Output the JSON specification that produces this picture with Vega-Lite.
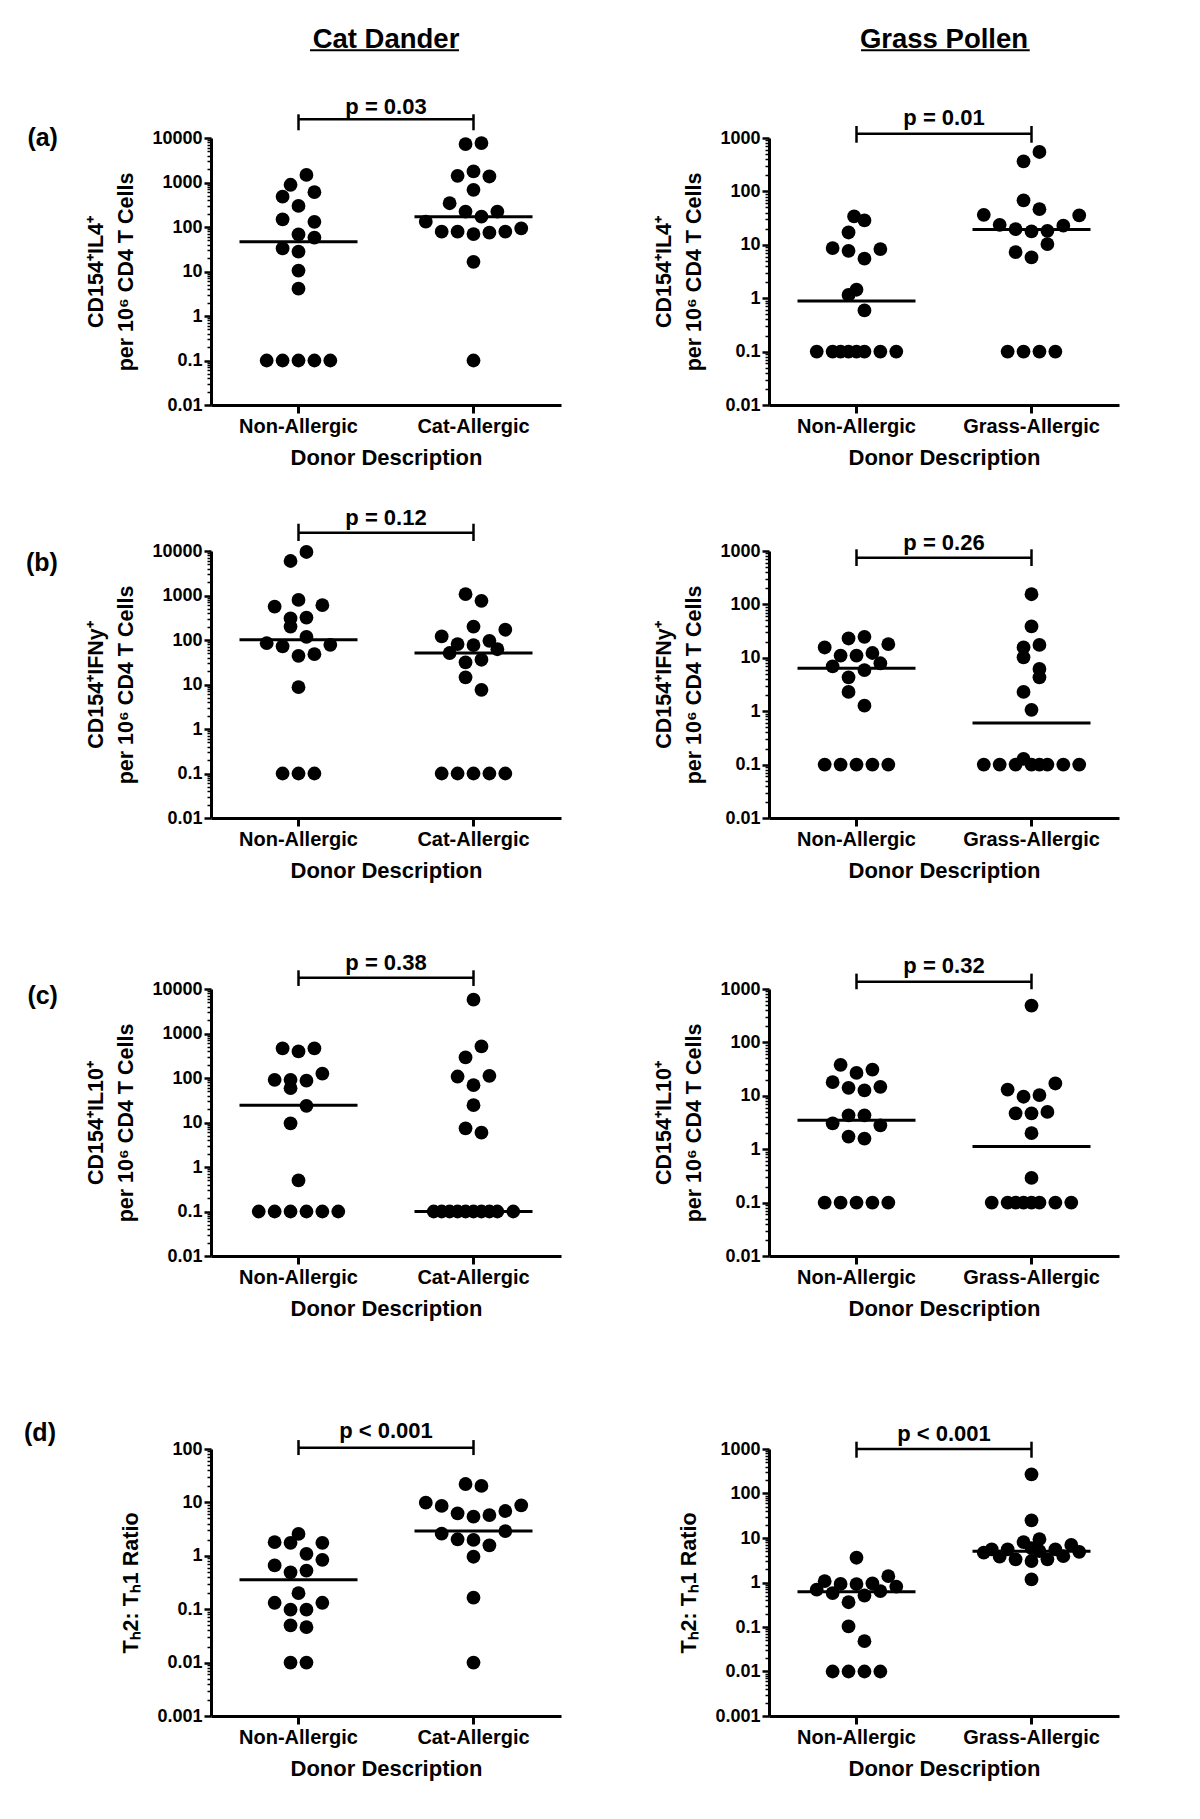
{
"$schema": "https://vega.github.io/schema/vega-lite/v6.json",
"background": "white",
"padding": {"left": 24, "top": 26, "right": 5, "bottom": 5},
"datasets": {
"pts": [
{"p":"a1","g":"Non-Allergic","v":1480,"s":1},{"p":"a1","g":"Non-Allergic","v":890,"s":-1},{"p":"a1","g":"Non-Allergic","v":480,"s":-2},{"p":"a1","g":"Non-Allergic","v":605,"s":2},{"p":"a1","g":"Non-Allergic","v":298,"s":0},{"p":"a1","g":"Non-Allergic","v":149,"s":-2},{"p":"a1","g":"Non-Allergic","v":131,"s":2},{"p":"a1","g":"Non-Allergic","v":68,"s":0},{"p":"a1","g":"Non-Allergic","v":58,"s":2},{"p":"a1","g":"Non-Allergic","v":33,"s":-2},{"p":"a1","g":"Non-Allergic","v":28,"s":0},{"p":"a1","g":"Non-Allergic","v":10.5,"s":0},{"p":"a1","g":"Non-Allergic","v":4.1,"s":0},{"p":"a1","g":"Non-Allergic","v":0.1,"s":-4},{"p":"a1","g":"Non-Allergic","v":0.1,"s":-2},{"p":"a1","g":"Non-Allergic","v":0.1,"s":0},{"p":"a1","g":"Non-Allergic","v":0.1,"s":2},{"p":"a1","g":"Non-Allergic","v":0.1,"s":4},
{"p":"a1","g":"Cat-Allergic","v":7300,"s":-1},{"p":"a1","g":"Cat-Allergic","v":7700,"s":1},{"p":"a1","g":"Cat-Allergic","v":1410,"s":-2},{"p":"a1","g":"Cat-Allergic","v":1770,"s":0},{"p":"a1","g":"Cat-Allergic","v":1365,"s":2},{"p":"a1","g":"Cat-Allergic","v":684,"s":0},{"p":"a1","g":"Cat-Allergic","v":342,"s":-3},{"p":"a1","g":"Cat-Allergic","v":222,"s":-1},{"p":"a1","g":"Cat-Allergic","v":222,"s":3},{"p":"a1","g":"Cat-Allergic","v":171,"s":1},{"p":"a1","g":"Cat-Allergic","v":132,"s":-6},{"p":"a1","g":"Cat-Allergic","v":78.5,"s":-4},{"p":"a1","g":"Cat-Allergic","v":78.5,"s":-2},{"p":"a1","g":"Cat-Allergic","v":69.5,"s":0},{"p":"a1","g":"Cat-Allergic","v":74.5,"s":2},{"p":"a1","g":"Cat-Allergic","v":78.5,"s":4},{"p":"a1","g":"Cat-Allergic","v":93,"s":6},{"p":"a1","g":"Cat-Allergic","v":16.5,"s":0},{"p":"a1","g":"Cat-Allergic","v":0.1,"s":0},
{"p":"a2","g":"Non-Allergic","v":34,"s":-0.3},{"p":"a2","g":"Non-Allergic","v":28.6,"s":1},{"p":"a2","g":"Non-Allergic","v":17,"s":-1},{"p":"a2","g":"Non-Allergic","v":8.7,"s":-3},{"p":"a2","g":"Non-Allergic","v":7.7,"s":-1},{"p":"a2","g":"Non-Allergic","v":8.3,"s":3},{"p":"a2","g":"Non-Allergic","v":5.5,"s":1},{"p":"a2","g":"Non-Allergic","v":1.44,"s":0},{"p":"a2","g":"Non-Allergic","v":1.15,"s":-1},{"p":"a2","g":"Non-Allergic","v":0.59,"s":1},{"p":"a2","g":"Non-Allergic","v":0.1,"s":-5},{"p":"a2","g":"Non-Allergic","v":0.1,"s":-3},{"p":"a2","g":"Non-Allergic","v":0.1,"s":-2},{"p":"a2","g":"Non-Allergic","v":0.1,"s":-1},{"p":"a2","g":"Non-Allergic","v":0.1,"s":0},{"p":"a2","g":"Non-Allergic","v":0.1,"s":1},{"p":"a2","g":"Non-Allergic","v":0.1,"s":3},{"p":"a2","g":"Non-Allergic","v":0.1,"s":5},
{"p":"a2","g":"Grass-Allergic","v":547,"s":1},{"p":"a2","g":"Grass-Allergic","v":365,"s":-1},{"p":"a2","g":"Grass-Allergic","v":68,"s":-1},{"p":"a2","g":"Grass-Allergic","v":46.5,"s":1},{"p":"a2","g":"Grass-Allergic","v":36.5,"s":-6},{"p":"a2","g":"Grass-Allergic","v":35.5,"s":6},{"p":"a2","g":"Grass-Allergic","v":23.7,"s":-4},{"p":"a2","g":"Grass-Allergic","v":22.8,"s":4},{"p":"a2","g":"Grass-Allergic","v":19.6,"s":-2},{"p":"a2","g":"Grass-Allergic","v":17.8,"s":0},{"p":"a2","g":"Grass-Allergic","v":18.3,"s":2},{"p":"a2","g":"Grass-Allergic","v":10.3,"s":2},{"p":"a2","g":"Grass-Allergic","v":7.3,"s":-2},{"p":"a2","g":"Grass-Allergic","v":5.8,"s":0},{"p":"a2","g":"Grass-Allergic","v":0.1,"s":-3},{"p":"a2","g":"Grass-Allergic","v":0.1,"s":-1},{"p":"a2","g":"Grass-Allergic","v":0.1,"s":1},{"p":"a2","g":"Grass-Allergic","v":0.1,"s":3},
{"p":"b1","g":"Non-Allergic","v":9500,"s":1},{"p":"b1","g":"Non-Allergic","v":5960,"s":-1},{"p":"b1","g":"Non-Allergic","v":795,"s":0},{"p":"b1","g":"Non-Allergic","v":565,"s":-3},{"p":"b1","g":"Non-Allergic","v":605,"s":3},{"p":"b1","g":"Non-Allergic","v":305,"s":-1},{"p":"b1","g":"Non-Allergic","v":320,"s":1},{"p":"b1","g":"Non-Allergic","v":200,"s":-1},{"p":"b1","g":"Non-Allergic","v":118,"s":1},{"p":"b1","g":"Non-Allergic","v":85,"s":-4},{"p":"b1","g":"Non-Allergic","v":72,"s":-2},{"p":"b1","g":"Non-Allergic","v":78,"s":4},{"p":"b1","g":"Non-Allergic","v":44,"s":0},{"p":"b1","g":"Non-Allergic","v":48,"s":2},{"p":"b1","g":"Non-Allergic","v":8.7,"s":0},{"p":"b1","g":"Non-Allergic","v":0.1,"s":-2},{"p":"b1","g":"Non-Allergic","v":0.1,"s":0},{"p":"b1","g":"Non-Allergic","v":0.1,"s":2},
{"p":"b1","g":"Cat-Allergic","v":1070,"s":-1},{"p":"b1","g":"Cat-Allergic","v":760,"s":1},{"p":"b1","g":"Cat-Allergic","v":200,"s":0},{"p":"b1","g":"Cat-Allergic","v":170,"s":4},{"p":"b1","g":"Cat-Allergic","v":120,"s":-4},{"p":"b1","g":"Cat-Allergic","v":96,"s":2},{"p":"b1","g":"Cat-Allergic","v":81,"s":-2},{"p":"b1","g":"Cat-Allergic","v":77,"s":0},{"p":"b1","g":"Cat-Allergic","v":62,"s":3},{"p":"b1","g":"Cat-Allergic","v":51,"s":-3},{"p":"b1","g":"Cat-Allergic","v":36,"s":1},{"p":"b1","g":"Cat-Allergic","v":31.5,"s":-1},{"p":"b1","g":"Cat-Allergic","v":14.5,"s":-1},{"p":"b1","g":"Cat-Allergic","v":7.6,"s":1},{"p":"b1","g":"Cat-Allergic","v":0.1,"s":-4},{"p":"b1","g":"Cat-Allergic","v":0.1,"s":-2},{"p":"b1","g":"Cat-Allergic","v":0.1,"s":0},{"p":"b1","g":"Cat-Allergic","v":0.1,"s":2},{"p":"b1","g":"Cat-Allergic","v":0.1,"s":4},
{"p":"b2","g":"Non-Allergic","v":23,"s":-1},{"p":"b2","g":"Non-Allergic","v":24.7,"s":1},{"p":"b2","g":"Non-Allergic","v":15.6,"s":-4},{"p":"b2","g":"Non-Allergic","v":18,"s":4},{"p":"b2","g":"Non-Allergic","v":11,"s":-2},{"p":"b2","g":"Non-Allergic","v":11,"s":0},{"p":"b2","g":"Non-Allergic","v":12.3,"s":2},{"p":"b2","g":"Non-Allergic","v":6.9,"s":-3},{"p":"b2","g":"Non-Allergic","v":7.9,"s":3},{"p":"b2","g":"Non-Allergic","v":5.9,"s":1},{"p":"b2","g":"Non-Allergic","v":4.3,"s":-1},{"p":"b2","g":"Non-Allergic","v":2.3,"s":-1},{"p":"b2","g":"Non-Allergic","v":1.27,"s":1},{"p":"b2","g":"Non-Allergic","v":0.1,"s":-4},{"p":"b2","g":"Non-Allergic","v":0.1,"s":-2},{"p":"b2","g":"Non-Allergic","v":0.1,"s":0},{"p":"b2","g":"Non-Allergic","v":0.1,"s":2},{"p":"b2","g":"Non-Allergic","v":0.1,"s":4},
{"p":"b2","g":"Grass-Allergic","v":155,"s":0},{"p":"b2","g":"Grass-Allergic","v":38.6,"s":0},{"p":"b2","g":"Grass-Allergic","v":15.6,"s":-1},{"p":"b2","g":"Grass-Allergic","v":17.4,"s":1},{"p":"b2","g":"Grass-Allergic","v":10.2,"s":-1},{"p":"b2","g":"Grass-Allergic","v":6.2,"s":1},{"p":"b2","g":"Grass-Allergic","v":4.3,"s":1},{"p":"b2","g":"Grass-Allergic","v":2.3,"s":-1},{"p":"b2","g":"Grass-Allergic","v":1.06,"s":0},{"p":"b2","g":"Grass-Allergic","v":0.128,"s":-1},{"p":"b2","g":"Grass-Allergic","v":0.1,"s":-6},{"p":"b2","g":"Grass-Allergic","v":0.1,"s":-4},{"p":"b2","g":"Grass-Allergic","v":0.1,"s":-2},{"p":"b2","g":"Grass-Allergic","v":0.1,"s":0},{"p":"b2","g":"Grass-Allergic","v":0.1,"s":1},{"p":"b2","g":"Grass-Allergic","v":0.1,"s":2},{"p":"b2","g":"Grass-Allergic","v":0.1,"s":4},{"p":"b2","g":"Grass-Allergic","v":0.1,"s":6},
{"p":"c1","g":"Non-Allergic","v":462,"s":-2},{"p":"c1","g":"Non-Allergic","v":396,"s":0},{"p":"c1","g":"Non-Allergic","v":462,"s":2},{"p":"c1","g":"Non-Allergic","v":126,"s":3},{"p":"c1","g":"Non-Allergic","v":91,"s":-3},{"p":"c1","g":"Non-Allergic","v":91,"s":-1},{"p":"c1","g":"Non-Allergic","v":87,"s":1},{"p":"c1","g":"Non-Allergic","v":59,"s":-1},{"p":"c1","g":"Non-Allergic","v":23.7,"s":1},{"p":"c1","g":"Non-Allergic","v":9.6,"s":-1},{"p":"c1","g":"Non-Allergic","v":0.5,"s":0},{"p":"c1","g":"Non-Allergic","v":0.1,"s":-5},{"p":"c1","g":"Non-Allergic","v":0.1,"s":-3},{"p":"c1","g":"Non-Allergic","v":0.1,"s":-1},{"p":"c1","g":"Non-Allergic","v":0.1,"s":1},{"p":"c1","g":"Non-Allergic","v":0.1,"s":3},{"p":"c1","g":"Non-Allergic","v":0.1,"s":5},
{"p":"c1","g":"Cat-Allergic","v":5750,"s":0},{"p":"c1","g":"Cat-Allergic","v":512,"s":1},{"p":"c1","g":"Cat-Allergic","v":290,"s":-1},{"p":"c1","g":"Cat-Allergic","v":108,"s":-2},{"p":"c1","g":"Cat-Allergic","v":112,"s":2},{"p":"c1","g":"Cat-Allergic","v":69,"s":0},{"p":"c1","g":"Cat-Allergic","v":24.5,"s":0},{"p":"c1","g":"Cat-Allergic","v":7.4,"s":-1},{"p":"c1","g":"Cat-Allergic","v":5.9,"s":1},{"p":"c1","g":"Cat-Allergic","v":0.1,"s":-5},{"p":"c1","g":"Cat-Allergic","v":0.1,"s":-4},{"p":"c1","g":"Cat-Allergic","v":0.1,"s":-3},{"p":"c1","g":"Cat-Allergic","v":0.1,"s":-2},{"p":"c1","g":"Cat-Allergic","v":0.1,"s":-1},{"p":"c1","g":"Cat-Allergic","v":0.1,"s":0},{"p":"c1","g":"Cat-Allergic","v":0.1,"s":1},{"p":"c1","g":"Cat-Allergic","v":0.1,"s":2},{"p":"c1","g":"Cat-Allergic","v":0.1,"s":3},{"p":"c1","g":"Cat-Allergic","v":0.1,"s":5},
{"p":"c2","g":"Non-Allergic","v":38,"s":-2},{"p":"c2","g":"Non-Allergic","v":26.8,"s":0},{"p":"c2","g":"Non-Allergic","v":31,"s":2},{"p":"c2","g":"Non-Allergic","v":18,"s":-3},{"p":"c2","g":"Non-Allergic","v":14.1,"s":-1},{"p":"c2","g":"Non-Allergic","v":14.7,"s":3},{"p":"c2","g":"Non-Allergic","v":12.6,"s":1},{"p":"c2","g":"Non-Allergic","v":4.3,"s":-1},{"p":"c2","g":"Non-Allergic","v":4.3,"s":1},{"p":"c2","g":"Non-Allergic","v":3.05,"s":-3},{"p":"c2","g":"Non-Allergic","v":2.8,"s":3},{"p":"c2","g":"Non-Allergic","v":1.72,"s":-1},{"p":"c2","g":"Non-Allergic","v":1.58,"s":1},{"p":"c2","g":"Non-Allergic","v":0.1,"s":-4},{"p":"c2","g":"Non-Allergic","v":0.1,"s":-2},{"p":"c2","g":"Non-Allergic","v":0.1,"s":0},{"p":"c2","g":"Non-Allergic","v":0.1,"s":2},{"p":"c2","g":"Non-Allergic","v":0.1,"s":4},
{"p":"c2","g":"Grass-Allergic","v":490,"s":0},{"p":"c2","g":"Grass-Allergic","v":17,"s":3},{"p":"c2","g":"Grass-Allergic","v":13.1,"s":-3},{"p":"c2","g":"Grass-Allergic","v":9.6,"s":-1},{"p":"c2","g":"Grass-Allergic","v":10.3,"s":1},{"p":"c2","g":"Grass-Allergic","v":4.7,"s":-2},{"p":"c2","g":"Grass-Allergic","v":4.7,"s":0},{"p":"c2","g":"Grass-Allergic","v":5.0,"s":2},{"p":"c2","g":"Grass-Allergic","v":2.0,"s":0},{"p":"c2","g":"Grass-Allergic","v":0.29,"s":0},{"p":"c2","g":"Grass-Allergic","v":0.1,"s":-5},{"p":"c2","g":"Grass-Allergic","v":0.1,"s":-3},{"p":"c2","g":"Grass-Allergic","v":0.1,"s":-2},{"p":"c2","g":"Grass-Allergic","v":0.1,"s":-1},{"p":"c2","g":"Grass-Allergic","v":0.1,"s":0},{"p":"c2","g":"Grass-Allergic","v":0.1,"s":1},{"p":"c2","g":"Grass-Allergic","v":0.1,"s":3},{"p":"c2","g":"Grass-Allergic","v":0.1,"s":5},
{"p":"d1","g":"Non-Allergic","v":2.57,"s":0},{"p":"d1","g":"Non-Allergic","v":1.8,"s":-3},{"p":"d1","g":"Non-Allergic","v":1.75,"s":-1},{"p":"d1","g":"Non-Allergic","v":1.75,"s":3},{"p":"d1","g":"Non-Allergic","v":1.09,"s":1},{"p":"d1","g":"Non-Allergic","v":0.84,"s":3},{"p":"d1","g":"Non-Allergic","v":0.66,"s":-3},{"p":"d1","g":"Non-Allergic","v":0.49,"s":-1},{"p":"d1","g":"Non-Allergic","v":0.53,"s":1},{"p":"d1","g":"Non-Allergic","v":0.2,"s":0},{"p":"d1","g":"Non-Allergic","v":0.132,"s":-3},{"p":"d1","g":"Non-Allergic","v":0.132,"s":3},{"p":"d1","g":"Non-Allergic","v":0.098,"s":-1},{"p":"d1","g":"Non-Allergic","v":0.098,"s":1},{"p":"d1","g":"Non-Allergic","v":0.05,"s":-1},{"p":"d1","g":"Non-Allergic","v":0.046,"s":1},{"p":"d1","g":"Non-Allergic","v":0.01,"s":-1},{"p":"d1","g":"Non-Allergic","v":0.01,"s":1},
{"p":"d1","g":"Cat-Allergic","v":22.1,"s":-1},{"p":"d1","g":"Cat-Allergic","v":20.3,"s":1},{"p":"d1","g":"Cat-Allergic","v":9.9,"s":-6},{"p":"d1","g":"Cat-Allergic","v":8.6,"s":-4},{"p":"d1","g":"Cat-Allergic","v":6.25,"s":-2},{"p":"d1","g":"Cat-Allergic","v":5.4,"s":0},{"p":"d1","g":"Cat-Allergic","v":5.8,"s":2},{"p":"d1","g":"Cat-Allergic","v":6.9,"s":4},{"p":"d1","g":"Cat-Allergic","v":8.8,"s":6},{"p":"d1","g":"Cat-Allergic","v":2.6,"s":-4},{"p":"d1","g":"Cat-Allergic","v":2.04,"s":-2},{"p":"d1","g":"Cat-Allergic","v":1.98,"s":0},{"p":"d1","g":"Cat-Allergic","v":2.9,"s":4},{"p":"d1","g":"Cat-Allergic","v":1.57,"s":2},{"p":"d1","g":"Cat-Allergic","v":0.96,"s":0},{"p":"d1","g":"Cat-Allergic","v":0.164,"s":0},{"p":"d1","g":"Cat-Allergic","v":0.01,"s":0},
{"p":"d2","g":"Non-Allergic","v":3.6,"s":0},{"p":"d2","g":"Non-Allergic","v":1.07,"s":-4},{"p":"d2","g":"Non-Allergic","v":1.39,"s":4},{"p":"d2","g":"Non-Allergic","v":0.93,"s":-2},{"p":"d2","g":"Non-Allergic","v":0.92,"s":0},{"p":"d2","g":"Non-Allergic","v":0.95,"s":2},{"p":"d2","g":"Non-Allergic","v":0.69,"s":-5},{"p":"d2","g":"Non-Allergic","v":0.81,"s":5},{"p":"d2","g":"Non-Allergic","v":0.58,"s":-3},{"p":"d2","g":"Non-Allergic","v":0.64,"s":3},{"p":"d2","g":"Non-Allergic","v":0.51,"s":1},{"p":"d2","g":"Non-Allergic","v":0.36,"s":-1},{"p":"d2","g":"Non-Allergic","v":0.103,"s":-1},{"p":"d2","g":"Non-Allergic","v":0.048,"s":1},{"p":"d2","g":"Non-Allergic","v":0.01,"s":-3},{"p":"d2","g":"Non-Allergic","v":0.01,"s":-1},{"p":"d2","g":"Non-Allergic","v":0.01,"s":1},{"p":"d2","g":"Non-Allergic","v":0.01,"s":3},
{"p":"d2","g":"Grass-Allergic","v":270,"s":0},{"p":"d2","g":"Grass-Allergic","v":25,"s":0},{"p":"d2","g":"Grass-Allergic","v":4.68,"s":-6},{"p":"d2","g":"Grass-Allergic","v":5.57,"s":-5},{"p":"d2","g":"Grass-Allergic","v":3.8,"s":-4},{"p":"d2","g":"Grass-Allergic","v":5.57,"s":-3},{"p":"d2","g":"Grass-Allergic","v":3.32,"s":-2},{"p":"d2","g":"Grass-Allergic","v":8.1,"s":-1},{"p":"d2","g":"Grass-Allergic","v":5.9,"s":0},{"p":"d2","g":"Grass-Allergic","v":3.04,"s":0},{"p":"d2","g":"Grass-Allergic","v":9.4,"s":1},{"p":"d2","g":"Grass-Allergic","v":5.1,"s":1},{"p":"d2","g":"Grass-Allergic","v":3.32,"s":2},{"p":"d2","g":"Grass-Allergic","v":5.57,"s":3},{"p":"d2","g":"Grass-Allergic","v":3.9,"s":4},{"p":"d2","g":"Grass-Allergic","v":7.0,"s":5},{"p":"d2","g":"Grass-Allergic","v":4.9,"s":6},{"p":"d2","g":"Grass-Allergic","v":1.17,"s":0}
],
"med": [
{"p":"a1","g":"Non-Allergic","m":46.6},{"p":"a1","g":"Cat-Allergic","m":171},
{"p":"a2","g":"Non-Allergic","m":0.89},{"p":"a2","g":"Grass-Allergic","m":19.4},
{"p":"b1","g":"Non-Allergic","m":101},{"p":"b1","g":"Cat-Allergic","m":51},
{"p":"b2","g":"Non-Allergic","m":6.4},{"p":"b2","g":"Grass-Allergic","m":0.6},
{"p":"c1","g":"Non-Allergic","m":24.5},{"p":"c1","g":"Cat-Allergic","m":0.1},
{"p":"c2","g":"Non-Allergic","m":3.5},{"p":"c2","g":"Grass-Allergic","m":1.12},
{"p":"d1","g":"Non-Allergic","m":0.355},{"p":"d1","g":"Cat-Allergic","m":2.91},
{"p":"d2","g":"Non-Allergic","m":0.62},{"p":"d2","g":"Grass-Allergic","m":5.06}
]
},
"columns": 2,
"spacing": {"row": 0, "column": 208},
"align": "each",
"bounds": "flush",
"concat": [
{"width": 350, "height": 267,
 "title": {"text": "(a)", "orient": "left", "anchor": "end", "frame": "group", "angle": 0, "align": "left", "baseline": "middle", "offset": 28, "fontSize": 25},
 "resolve": {"axis": {"x": "independent", "y": "independent"}},
 "layer": [
  {"data": {"name": "pts"}, "transform": [{"filter": "datum.p == 'a1'"}],
   "mark": {"type": "circle", "size": 190, "color": "black", "opacity": 1},
   "encoding": {
    "x": {"field": "g", "type": "nominal", "scale": {"domain": ["Non-Allergic", "Cat-Allergic"], "paddingInner": 0, "paddingOuter": 0}, "title": "Donor Description"},
    "xOffset": {"field": "s", "type": "quantitative", "scale": {"domain": [-11, 11], "nice": false, "zero": false}},
    "y": {"field": "v", "type": "quantitative", "scale": {"type": "log", "domain": [0.01, 10000], "nice": false}, "title": ["CD154⁺IL4⁺", "per 10⁶ CD4 T Cells"],
     "axis": {"values": [0.01,0.1,1,10,100,1000,10000]}}}},
  {"data": {"name": "med"}, "transform": [{"filter": "datum.p == 'a1'"}],
   "mark": {"type": "tick", "orient": "horizontal", "size": 118, "thickness": 3, "color": "black", "opacity": 1},
   "encoding": {"x": {"field": "g", "type": "nominal", "axis": null}, "y": {"field": "m", "type": "quantitative",
     "axis": {"orient": "left", "title": null, "labels": false, "domain": false, "tickSize": 4, "tickWidth": 1.5, "values": [0.02,0.03,0.04,0.05,0.06,0.07,0.08,0.09,0.2,0.3,0.4,0.5,0.6,0.7,0.8,0.9,2,3,4,5,6,7,8,9,20,30,40,50,60,70,80,90,200,300,400,500,600,700,800,900,2000,3000,4000,5000,6000,7000,8000,9000]}}}},
  {"data": {"name": "med"}, "transform": [{"filter": "datum.p == 'a1'"}],
   "mark": {"type": "rule", "strokeWidth": 2.5, "color": "black"},
   "encoding": {"x": {"field": "g", "type": "nominal", "axis": null}, "y": {"datum": 34100, "axis": null}, "y2": {"datum": 14900}}},
  {"data": {"values": [{}]}, "mark": {"type": "rule", "strokeWidth": 2.5, "color": "black"},
   "encoding": {"x": {"datum": "Non-Allergic", "axis": null}, "x2": {"datum": "Cat-Allergic"}, "y": {"datum": 26300, "axis": null}}},
  {"data": {"values": [{"t": "p = 0.03"}]}, "mark": {"type": "text", "fontSize": 22, "fontWeight": "bold", "color": "black"},
   "encoding": {"x": {"datum": "Non-Allergic", "bandPosition": 1, "axis": null}, "y": {"datum": 49800, "axis": null}, "text": {"field": "t"}}},
  {"data": {"values": [{"t": "Cat Dander"}]}, "mark": {"type": "text", "fontSize": 27.5, "fontWeight": "bold", "color": "black"},
   "encoding": {"x": {"datum": "Non-Allergic", "bandPosition": 1, "axis": null}, "y": {"datum": 1570000, "axis": null}, "text": {"field": "t"}}},
  {"data": {"values": [{}]}, "mark": {"type": "rule", "strokeWidth": 2, "color": "black"},
   "encoding": {"x": {"datum": "Non-Allergic", "bandPosition": 0.566, "axis": null}, "x2": {"datum": "Cat-Allergic", "bandPosition": 0.417}, "y": {"datum": 935000, "axis": null}}}
 ]},
{"width": 350, "height": 267,
 "resolve": {"axis": {"x": "independent", "y": "independent"}},
 "layer": [
  {"data": {"name": "pts"}, "transform": [{"filter": "datum.p == 'a2'"}],
   "mark": {"type": "circle", "size": 190, "color": "black", "opacity": 1},
   "encoding": {
    "x": {"field": "g", "type": "nominal", "scale": {"domain": ["Non-Allergic", "Grass-Allergic"], "paddingInner": 0, "paddingOuter": 0}, "title": "Donor Description"},
    "xOffset": {"field": "s", "type": "quantitative", "scale": {"domain": [-11, 11], "nice": false, "zero": false}},
    "y": {"field": "v", "type": "quantitative", "scale": {"type": "log", "domain": [0.01, 1000], "nice": false}, "title": ["CD154⁺IL4⁺", "per 10⁶ CD4 T Cells"],
     "axis": {"values": [0.01,0.1,1,10,100,1000]}}}},
  {"data": {"name": "med"}, "transform": [{"filter": "datum.p == 'a2'"}],
   "mark": {"type": "tick", "orient": "horizontal", "size": 118, "thickness": 3, "color": "black", "opacity": 1},
   "encoding": {"x": {"field": "g", "type": "nominal", "axis": null}, "y": {"field": "m", "type": "quantitative",
     "axis": {"orient": "left", "title": null, "labels": false, "domain": false, "tickSize": 4, "tickWidth": 1.5, "values": [0.02,0.03,0.04,0.05,0.06,0.07,0.08,0.09,0.2,0.3,0.4,0.5,0.6,0.7,0.8,0.9,2,3,4,5,6,7,8,9,20,30,40,50,60,70,80,90,200,300,400,500,600,700,800,900]}}}},
  {"data": {"name": "med"}, "transform": [{"filter": "datum.p == 'a2'"}],
   "mark": {"type": "rule", "strokeWidth": 2.5, "color": "black"},
   "encoding": {"x": {"field": "g", "type": "nominal", "axis": null}, "y": {"datum": 1680, "axis": null}, "y2": {"datum": 816}}},
  {"data": {"values": [{}]}, "mark": {"type": "rule", "strokeWidth": 2.5, "color": "black"},
   "encoding": {"x": {"datum": "Non-Allergic", "axis": null}, "x2": {"datum": "Grass-Allergic"}, "y": {"datum": 1205, "axis": null}}},
  {"data": {"values": [{"t": "p = 0.01"}]}, "mark": {"type": "text", "fontSize": 22, "fontWeight": "bold", "color": "black"},
   "encoding": {"x": {"datum": "Non-Allergic", "bandPosition": 1, "axis": null}, "y": {"datum": 2400, "axis": null}, "text": {"field": "t"}}},
  {"data": {"values": [{"t": "Grass Pollen"}]}, "mark": {"type": "text", "fontSize": 27.5, "fontWeight": "bold", "color": "black"},
   "encoding": {"x": {"datum": "Non-Allergic", "bandPosition": 1, "axis": null}, "y": {"datum": 67600, "axis": null}, "text": {"field": "t"}}},
  {"data": {"values": [{}]}, "mark": {"type": "rule", "strokeWidth": 2, "color": "black"},
   "encoding": {"x": {"datum": "Non-Allergic", "bandPosition": 0.526, "axis": null}, "x2": {"datum": "Grass-Allergic", "bandPosition": 0.49}, "y": {"datum": 43900, "axis": null}}}
 ]},
{"width": 1, "height": 146, "data": {"values": []}, "mark": {"type": "point", "opacity": 0}},
{"width": 1, "height": 146, "data": {"values": []}, "mark": {"type": "point", "opacity": 0}},
{"width": 350, "height": 267,
 "title": {"text": "(b)", "orient": "left", "anchor": "end", "frame": "group", "angle": 0, "align": "left", "baseline": "middle", "offset": 28, "dy": 12, "fontSize": 25},
 "resolve": {"axis": {"x": "independent", "y": "independent"}},
 "layer": [
  {"data": {"name": "pts"}, "transform": [{"filter": "datum.p == 'b1'"}],
   "mark": {"type": "circle", "size": 190, "color": "black", "opacity": 1},
   "encoding": {
    "x": {"field": "g", "type": "nominal", "scale": {"domain": ["Non-Allergic", "Cat-Allergic"], "paddingInner": 0, "paddingOuter": 0}, "title": "Donor Description"},
    "xOffset": {"field": "s", "type": "quantitative", "scale": {"domain": [-11, 11], "nice": false, "zero": false}},
    "y": {"field": "v", "type": "quantitative", "scale": {"type": "log", "domain": [0.01, 10000], "nice": false}, "title": ["CD154⁺IFNy⁺", "per 10⁶ CD4 T Cells"],
     "axis": {"values": [0.01,0.1,1,10,100,1000,10000]}}}},
  {"data": {"name": "med"}, "transform": [{"filter": "datum.p == 'b1'"}],
   "mark": {"type": "tick", "orient": "horizontal", "size": 118, "thickness": 3, "color": "black", "opacity": 1},
   "encoding": {"x": {"field": "g", "type": "nominal", "axis": null}, "y": {"field": "m", "type": "quantitative",
     "axis": {"orient": "left", "title": null, "labels": false, "domain": false, "tickSize": 4, "tickWidth": 1.5, "values": [0.02,0.03,0.04,0.05,0.06,0.07,0.08,0.09,0.2,0.3,0.4,0.5,0.6,0.7,0.8,0.9,2,3,4,5,6,7,8,9,20,30,40,50,60,70,80,90,200,300,400,500,600,700,800,900,2000,3000,4000,5000,6000,7000,8000,9000]}}}},
  {"data": {"name": "med"}, "transform": [{"filter": "datum.p == 'b1'"}],
   "mark": {"type": "rule", "strokeWidth": 2.5, "color": "black"},
   "encoding": {"x": {"field": "g", "type": "nominal", "axis": null}, "y": {"datum": 41000, "axis": null}, "y2": {"datum": 16800}}},
  {"data": {"values": [{}]}, "mark": {"type": "rule", "strokeWidth": 2.5, "color": "black"},
   "encoding": {"x": {"datum": "Non-Allergic", "axis": null}, "x2": {"datum": "Cat-Allergic"}, "y": {"datum": 25800, "axis": null}}},
  {"data": {"values": [{"t": "p = 0.12"}]}, "mark": {"type": "text", "fontSize": 22, "fontWeight": "bold", "color": "black"},
   "encoding": {"x": {"datum": "Non-Allergic", "bandPosition": 1, "axis": null}, "y": {"datum": 56000, "axis": null}, "text": {"field": "t"}}}
 ]},
{"width": 350, "height": 267,
 "resolve": {"axis": {"x": "independent", "y": "independent"}},
 "layer": [
  {"data": {"name": "pts"}, "transform": [{"filter": "datum.p == 'b2'"}],
   "mark": {"type": "circle", "size": 190, "color": "black", "opacity": 1},
   "encoding": {
    "x": {"field": "g", "type": "nominal", "scale": {"domain": ["Non-Allergic", "Grass-Allergic"], "paddingInner": 0, "paddingOuter": 0}, "title": "Donor Description"},
    "xOffset": {"field": "s", "type": "quantitative", "scale": {"domain": [-11, 11], "nice": false, "zero": false}},
    "y": {"field": "v", "type": "quantitative", "scale": {"type": "log", "domain": [0.01, 1000], "nice": false}, "title": ["CD154⁺IFNy⁺", "per 10⁶ CD4 T Cells"],
     "axis": {"values": [0.01,0.1,1,10,100,1000]}}}},
  {"data": {"name": "med"}, "transform": [{"filter": "datum.p == 'b2'"}],
   "mark": {"type": "tick", "orient": "horizontal", "size": 118, "thickness": 3, "color": "black", "opacity": 1},
   "encoding": {"x": {"field": "g", "type": "nominal", "axis": null}, "y": {"field": "m", "type": "quantitative",
     "axis": {"orient": "left", "title": null, "labels": false, "domain": false, "tickSize": 4, "tickWidth": 1.5, "values": [0.02,0.03,0.04,0.05,0.06,0.07,0.08,0.09,0.2,0.3,0.4,0.5,0.6,0.7,0.8,0.9,2,3,4,5,6,7,8,9,20,30,40,50,60,70,80,90,200,300,400,500,600,700,800,900]}}}},
  {"data": {"name": "med"}, "transform": [{"filter": "datum.p == 'b2'"}],
   "mark": {"type": "rule", "strokeWidth": 2.5, "color": "black"},
   "encoding": {"x": {"field": "g", "type": "nominal", "axis": null}, "y": {"datum": 1076, "axis": null}, "y2": {"datum": 523}}},
  {"data": {"values": [{}]}, "mark": {"type": "rule", "strokeWidth": 2.5, "color": "black"},
   "encoding": {"x": {"datum": "Non-Allergic", "axis": null}, "x2": {"datum": "Grass-Allergic"}, "y": {"datum": 750, "axis": null}}},
  {"data": {"values": [{"t": "p = 0.26"}]}, "mark": {"type": "text", "fontSize": 22, "fontWeight": "bold", "color": "black"},
   "encoding": {"x": {"datum": "Non-Allergic", "bandPosition": 1, "axis": null}, "y": {"datum": 1430, "axis": null}, "text": {"field": "t"}}}
 ]},
{"width": 1, "height": 171, "data": {"values": []}, "mark": {"type": "point", "opacity": 0}},
{"width": 1, "height": 171, "data": {"values": []}, "mark": {"type": "point", "opacity": 0}},
{"width": 350, "height": 267,
 "title": {"text": "(c)", "orient": "left", "anchor": "end", "frame": "group", "angle": 0, "align": "left", "baseline": "middle", "offset": 28, "dy": 7, "fontSize": 25},
 "resolve": {"axis": {"x": "independent", "y": "independent"}},
 "layer": [
  {"data": {"name": "pts"}, "transform": [{"filter": "datum.p == 'c1'"}],
   "mark": {"type": "circle", "size": 190, "color": "black", "opacity": 1},
   "encoding": {
    "x": {"field": "g", "type": "nominal", "scale": {"domain": ["Non-Allergic", "Cat-Allergic"], "paddingInner": 0, "paddingOuter": 0}, "title": "Donor Description"},
    "xOffset": {"field": "s", "type": "quantitative", "scale": {"domain": [-11, 11], "nice": false, "zero": false}},
    "y": {"field": "v", "type": "quantitative", "scale": {"type": "log", "domain": [0.01, 10000], "nice": false}, "title": ["CD154⁺IL10⁺", "per 10⁶ CD4 T Cells"],
     "axis": {"values": [0.01,0.1,1,10,100,1000,10000]}}}},
  {"data": {"name": "med"}, "transform": [{"filter": "datum.p == 'c1'"}],
   "mark": {"type": "tick", "orient": "horizontal", "size": 118, "thickness": 3, "color": "black", "opacity": 1},
   "encoding": {"x": {"field": "g", "type": "nominal", "axis": null}, "y": {"field": "m", "type": "quantitative",
     "axis": {"orient": "left", "title": null, "labels": false, "domain": false, "tickSize": 4, "tickWidth": 1.5, "values": [0.02,0.03,0.04,0.05,0.06,0.07,0.08,0.09,0.2,0.3,0.4,0.5,0.6,0.7,0.8,0.9,2,3,4,5,6,7,8,9,20,30,40,50,60,70,80,90,200,300,400,500,600,700,800,900,2000,3000,4000,5000,6000,7000,8000,9000]}}}},
  {"data": {"name": "med"}, "transform": [{"filter": "datum.p == 'c1'"}],
   "mark": {"type": "rule", "strokeWidth": 2.5, "color": "black"},
   "encoding": {"x": {"field": "g", "type": "nominal", "axis": null}, "y": {"datum": 26300, "axis": null}, "y2": {"datum": 11700}}},
  {"data": {"values": [{}]}, "mark": {"type": "rule", "strokeWidth": 2.5, "color": "black"},
   "encoding": {"x": {"datum": "Non-Allergic", "axis": null}, "x2": {"datum": "Cat-Allergic"}, "y": {"datum": 17900, "axis": null}}},
  {"data": {"values": [{"t": "p = 0.38"}]}, "mark": {"type": "text", "fontSize": 22, "fontWeight": "bold", "color": "black"},
   "encoding": {"x": {"datum": "Non-Allergic", "bandPosition": 1, "axis": null}, "y": {"datum": 39000, "axis": null}, "text": {"field": "t"}}}
 ]},
{"width": 350, "height": 267,
 "resolve": {"axis": {"x": "independent", "y": "independent"}},
 "layer": [
  {"data": {"name": "pts"}, "transform": [{"filter": "datum.p == 'c2'"}],
   "mark": {"type": "circle", "size": 190, "color": "black", "opacity": 1},
   "encoding": {
    "x": {"field": "g", "type": "nominal", "scale": {"domain": ["Non-Allergic", "Grass-Allergic"], "paddingInner": 0, "paddingOuter": 0}, "title": "Donor Description"},
    "xOffset": {"field": "s", "type": "quantitative", "scale": {"domain": [-11, 11], "nice": false, "zero": false}},
    "y": {"field": "v", "type": "quantitative", "scale": {"type": "log", "domain": [0.01, 1000], "nice": false}, "title": ["CD154⁺IL10⁺", "per 10⁶ CD4 T Cells"],
     "axis": {"values": [0.01,0.1,1,10,100,1000]}}}},
  {"data": {"name": "med"}, "transform": [{"filter": "datum.p == 'c2'"}],
   "mark": {"type": "tick", "orient": "horizontal", "size": 118, "thickness": 3, "color": "black", "opacity": 1},
   "encoding": {"x": {"field": "g", "type": "nominal", "axis": null}, "y": {"field": "m", "type": "quantitative",
     "axis": {"orient": "left", "title": null, "labels": false, "domain": false, "tickSize": 4, "tickWidth": 1.5, "values": [0.02,0.03,0.04,0.05,0.06,0.07,0.08,0.09,0.2,0.3,0.4,0.5,0.6,0.7,0.8,0.9,2,3,4,5,6,7,8,9,20,30,40,50,60,70,80,90,200,300,400,500,600,700,800,900]}}}},
  {"data": {"name": "med"}, "transform": [{"filter": "datum.p == 'c2'"}],
   "mark": {"type": "rule", "strokeWidth": 2.5, "color": "black"},
   "encoding": {"x": {"field": "g", "type": "nominal", "axis": null}, "y": {"datum": 1940, "axis": null}, "y2": {"datum": 990}}},
  {"data": {"values": [{}]}, "mark": {"type": "rule", "strokeWidth": 2.5, "color": "black"},
   "encoding": {"x": {"datum": "Non-Allergic", "axis": null}, "x2": {"datum": "Grass-Allergic"}, "y": {"datum": 1370, "axis": null}}},
  {"data": {"values": [{"t": "p = 0.32"}]}, "mark": {"type": "text", "fontSize": 22, "fontWeight": "bold", "color": "black"},
   "encoding": {"x": {"datum": "Non-Allergic", "bandPosition": 1, "axis": null}, "y": {"datum": 2700, "axis": null}, "text": {"field": "t"}}}
 ]},
{"width": 1, "height": 193, "data": {"values": []}, "mark": {"type": "point", "opacity": 0}},
{"width": 1, "height": 193, "data": {"values": []}, "mark": {"type": "point", "opacity": 0}},
{"width": 350, "height": 267,
 "title": {"text": "(d)", "orient": "left", "anchor": "end", "frame": "group", "angle": 0, "align": "left", "baseline": "middle", "offset": 65, "dy": -16, "fontSize": 25},
 "resolve": {"axis": {"x": "independent", "y": "independent"}},
 "layer": [
  {"data": {"name": "pts"}, "transform": [{"filter": "datum.p == 'd1'"}],
   "mark": {"type": "circle", "size": 190, "color": "black", "opacity": 1},
   "encoding": {
    "x": {"field": "g", "type": "nominal", "scale": {"domain": ["Non-Allergic", "Cat-Allergic"], "paddingInner": 0, "paddingOuter": 0}, "title": "Donor Description"},
    "xOffset": {"field": "s", "type": "quantitative", "scale": {"domain": [-11, 11], "nice": false, "zero": false}},
    "y": {"field": "v", "type": "quantitative", "scale": {"type": "log", "domain": [0.001, 100], "nice": false}, "title": "Tₕ2: Tₕ1 Ratio",
     "axis": {"values": [0.001,0.01,0.1,1,10,100]}}}},
  {"data": {"name": "med"}, "transform": [{"filter": "datum.p == 'd1'"}],
   "mark": {"type": "tick", "orient": "horizontal", "size": 118, "thickness": 3, "color": "black", "opacity": 1},
   "encoding": {"x": {"field": "g", "type": "nominal", "axis": null}, "y": {"field": "m", "type": "quantitative",
     "axis": {"orient": "left", "title": null, "labels": false, "domain": false, "tickSize": 4, "tickWidth": 1.5, "values": [0.002,0.003,0.004,0.005,0.006,0.007,0.008,0.009,0.02,0.03,0.04,0.05,0.06,0.07,0.08,0.09,0.2,0.3,0.4,0.5,0.6,0.7,0.8,0.9,2,3,4,5,6,7,8,9,20,30,40,50,60,70,80,90]}}}},
  {"data": {"name": "med"}, "transform": [{"filter": "datum.p == 'd1'"}],
   "mark": {"type": "rule", "strokeWidth": 2.5, "color": "black"},
   "encoding": {"x": {"field": "g", "type": "nominal", "axis": null}, "y": {"datum": 147, "axis": null}, "y2": {"datum": 77}}},
  {"data": {"values": [{}]}, "mark": {"type": "rule", "strokeWidth": 2.5, "color": "black"},
   "encoding": {"x": {"datum": "Non-Allergic", "axis": null}, "x2": {"datum": "Cat-Allergic"}, "y": {"datum": 106, "axis": null}}},
  {"data": {"values": [{"t": "p < 0.001"}]}, "mark": {"type": "text", "fontSize": 22, "fontWeight": "bold", "color": "black"},
   "encoding": {"x": {"datum": "Non-Allergic", "bandPosition": 1, "axis": null}, "y": {"datum": 217, "axis": null}, "text": {"field": "t"}}}
 ]},
{"width": 350, "height": 267,
 "resolve": {"axis": {"x": "independent", "y": "independent"}},
 "layer": [
  {"data": {"name": "pts"}, "transform": [{"filter": "datum.p == 'd2'"}],
   "mark": {"type": "circle", "size": 190, "color": "black", "opacity": 1},
   "encoding": {
    "x": {"field": "g", "type": "nominal", "scale": {"domain": ["Non-Allergic", "Grass-Allergic"], "paddingInner": 0, "paddingOuter": 0}, "title": "Donor Description"},
    "xOffset": {"field": "s", "type": "quantitative", "scale": {"domain": [-11, 11], "nice": false, "zero": false}},
    "y": {"field": "v", "type": "quantitative", "scale": {"type": "log", "domain": [0.001, 1000], "nice": false}, "title": "Tₕ2: Tₕ1 Ratio",
     "axis": {"values": [0.001,0.01,0.1,1,10,100,1000]}}}},
  {"data": {"name": "med"}, "transform": [{"filter": "datum.p == 'd2'"}],
   "mark": {"type": "tick", "orient": "horizontal", "size": 118, "thickness": 3, "color": "black", "opacity": 1},
   "encoding": {"x": {"field": "g", "type": "nominal", "axis": null}, "y": {"field": "m", "type": "quantitative",
     "axis": {"orient": "left", "title": null, "labels": false, "domain": false, "tickSize": 4, "tickWidth": 1.5, "values": [0.002,0.003,0.004,0.005,0.006,0.007,0.008,0.009,0.02,0.03,0.04,0.05,0.06,0.07,0.08,0.09,0.2,0.3,0.4,0.5,0.6,0.7,0.8,0.9,2,3,4,5,6,7,8,9,20,30,40,50,60,70,80,90,200,300,400,500,600,700,800,900]}}}},
  {"data": {"name": "med"}, "transform": [{"filter": "datum.p == 'd2'"}],
   "mark": {"type": "rule", "strokeWidth": 2.5, "color": "black"},
   "encoding": {"x": {"field": "g", "type": "nominal", "axis": null}, "y": {"datum": 1460, "axis": null}, "y2": {"datum": 637}}},
  {"data": {"values": [{}]}, "mark": {"type": "rule", "strokeWidth": 2.5, "color": "black"},
   "encoding": {"x": {"datum": "Non-Allergic", "axis": null}, "x2": {"datum": "Grass-Allergic"}, "y": {"datum": 1000, "axis": null}}},
  {"data": {"values": [{"t": "p < 0.001"}]}, "mark": {"type": "text", "fontSize": 22, "fontWeight": "bold", "color": "black"},
   "encoding": {"x": {"datum": "Non-Allergic", "bandPosition": 1, "axis": null}, "y": {"datum": 2140, "axis": null}, "text": {"field": "t"}}}
 ]}
],
"config": {
 "font": "Liberation Sans",
 "view": {"stroke": null},
 "title": {"color": "black", "fontWeight": "bold", "font": "Liberation Sans"},
 "axis": {"domainColor": "black", "domainWidth": 3, "tickColor": "black", "labelColor": "black", "titleColor": "black", "labelFontWeight": "bold", "titleFontWeight": "bold", "grid": false, "labelFont": "Liberation Sans", "titleFont": "Liberation Sans"},
 "axisX": {"tickSize": 8, "tickWidth": 3, "labelFontSize": 20, "labelAngle": 0, "labelPadding": 3, "titleFontSize": 22, "titlePadding": 11},
 "axisY": {"labelFontSize": 18, "titleFontSize": 21.5, "labelPadding": 2, "titlePadding": 14, "titleLineHeight": 30, "format": "~g", "labelOverlap": false, "tickWidth": 2.5, "tickSize": 7}
}
}
